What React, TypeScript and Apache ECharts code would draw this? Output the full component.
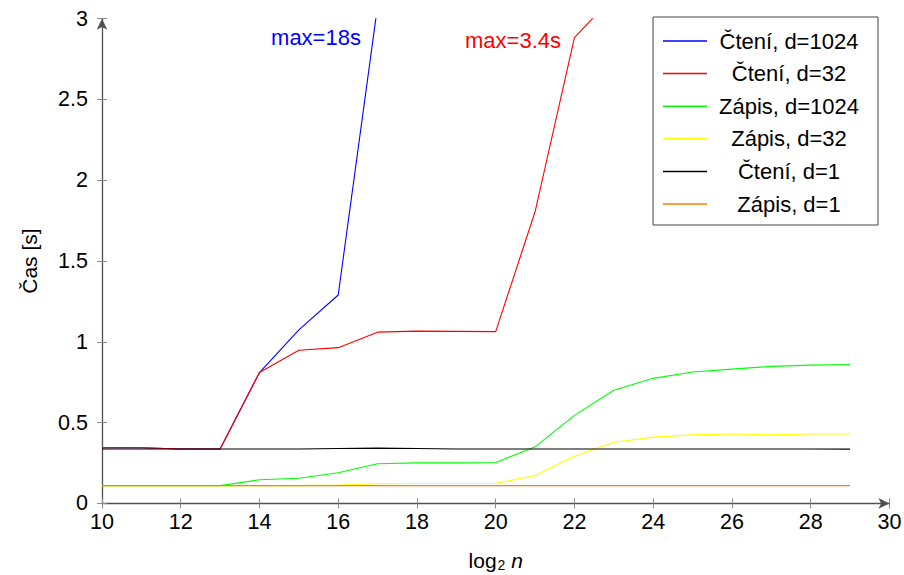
import React, { useEffect, useRef } from "react";
import * as echarts from "echarts";

const FONT = "'Liberation Sans', Arial, Helvetica, sans-serif";

// log2 n
const xValues = [10, 11, 12, 13, 14, 15, 16, 17, 18, 19, 20, 21, 22, 23, 24, 25, 26, 27, 28, 29];

// Time [s]
const readD1024 = [0.345, 0.344, 0.337, 0.337, 0.81, 1.074, 1.29, 3.08, 5.6, 8.2, 10.4, 12.3, 13.9, 15.2, 16.3, 17.1, 17.6, 18.0, 17.8, 17.6];
const readD32 = [0.345, 0.344, 0.337, 0.337, 0.81, 0.948, 0.964, 1.06, 1.066, 1.065, 1.063, 1.805, 2.883, 3.14, 3.27, 3.33, 3.37, 3.4, 3.38, 3.36];
const writeD1024 = [0.11, 0.11, 0.11, 0.11, 0.146, 0.156, 0.19, 0.245, 0.251, 0.251, 0.253, 0.35, 0.545, 0.7, 0.774, 0.813, 0.831, 0.848, 0.856, 0.86];
const writeD32 = [0.11, 0.11, 0.11, 0.11, 0.11, 0.11, 0.113, 0.122, 0.123, 0.123, 0.124, 0.173, 0.292, 0.378, 0.41, 0.424, 0.43, 0.424, 0.43, 0.43];
const readD1 = [0.337, 0.337, 0.337, 0.337, 0.337, 0.337, 0.34, 0.342, 0.34, 0.337, 0.337, 0.337, 0.337, 0.337, 0.337, 0.337, 0.337, 0.337, 0.337, 0.336];
const writeD1 = [0.11, 0.11, 0.11, 0.11, 0.11, 0.11, 0.11, 0.11, 0.11, 0.11, 0.11, 0.11, 0.11, 0.11, 0.11, 0.11, 0.11, 0.11, 0.11, 0.11];

const seriesNames = ["Čtení, d=1024", "Čtení, d=32", "Zápis, d=1024", "Zápis, d=32", "Čtení, d=1", "Zápis, d=1"];
const seriesData = [readD1024, readD32, writeD1024, writeD32, readD1, writeD1];
const seriesColors = ["#0000ff", "#ff0000", "#00ff00", "#ffff00", "#000000", "#ff8000"];

const xTicks = { min: 10, max: 30, interval: 2 };
const yTicks = { min: 0, max: 3, interval: 0.5 };

const annotations = [
  { text: "max=18s", color: "#0000ff" },
  { text: "max=3.4s", color: "#ff0000" },
];

export default function App() {
  const ref = useRef<HTMLDivElement>(null);

  useEffect(() => {
    const chart = echarts.init(ref.current!, null, { renderer: "svg" });
    const axisLineStyle = { color: "#505050", width: 1.3 };
    const tickStyle = { color: "#8a8a8a", width: 1 };

    const option: any = {
      animation: false,
      backgroundColor: "#ffffff",
      textStyle: { fontFamily: FONT },
      grid: { left: 102, right: 14.6, top: 18.7, bottom: 71.6, containLabel: false, outerBoundsMode: "none" },
      xAxis: [
        {
          type: "value",
          ...xTicks,
          position: "bottom",
          axisLine: { show: true, onZero: false, symbol: ["none", "arrow"], symbolSize: [8, 11], lineStyle: axisLineStyle },
          axisTick: { show: true, inside: false, length: 5, lineStyle: tickStyle },
          axisLabel: { fontSize: 21.5, color: "#000", margin: 8, fontFamily: FONT },
          splitLine: { show: false },
          name: "{a|log}{s|2}{i| n}",
          nameLocation: "middle",
          nameGap: 45,
          nameTextStyle: {
            rich: {
              a: { fontSize: 21, fontFamily: FONT, color: "#000", lineHeight: 24, verticalAlign: "middle" },
              s: { fontSize: 14, fontFamily: FONT, color: "#000", lineHeight: 8, verticalAlign: "bottom", padding: [0, 0, 0, 1] },
              i: { fontSize: 21, fontFamily: FONT, fontStyle: "italic", color: "#000", lineHeight: 24, verticalAlign: "middle" },
            },
          },
        },
        {
          type: "value",
          ...xTicks,
          position: "bottom",
          axisLine: { show: false },
          axisTick: { show: true, inside: true, length: 5, lineStyle: tickStyle },
          axisLabel: { show: false },
          splitLine: { show: false },
        },
      ],
      yAxis: [
        {
          type: "value",
          ...yTicks,
          position: "left",
          axisLine: { show: true, onZero: false, symbol: ["none", "arrow"], symbolSize: [8, 11], lineStyle: axisLineStyle },
          axisTick: { show: true, inside: false, length: 5, lineStyle: tickStyle },
          axisLabel: { fontSize: 21.5, color: "#000", margin: 14, fontFamily: FONT },
          splitLine: { show: false },
          name: "Čas [s]",
          nameLocation: "middle",
          nameRotate: 90,
          nameGap: 62,
          nameTextStyle: { fontSize: 21, color: "#000", fontFamily: FONT },
        },
        {
          type: "value",
          ...yTicks,
          position: "left",
          axisLine: { show: false },
          axisTick: { show: true, inside: true, length: 5, lineStyle: tickStyle },
          axisLabel: { show: false },
          splitLine: { show: false },
        },
      ],
      legend: {
        show: true,
        orient: "vertical",
        left: 653,
        top: 17,
        data: seriesNames,
        icon: "rect",
        itemWidth: 44,
        itemHeight: 1.5,
        itemGap: 10.6,
        padding: [13, 12, 10, 10],
        borderColor: "#444",
        borderWidth: 1,
        backgroundColor: "#fff",
        selectedMode: false,
        formatter: (name: string) => `{c|${name}}`,
        textStyle: {
          rich: {
            c: { width: 154, align: "center", fontSize: 22, lineHeight: 24, fontFamily: FONT, color: "#000" },
          },
        },
      },
      series: seriesNames.map((name, k) => ({
        name,
        type: "line",
        xAxisIndex: 0,
        yAxisIndex: 0,
        data: xValues.map((x, i) => [x, seriesData[k][i]]),
        showSymbol: false,
        symbol: "none",
        clip: true,
        color: seriesColors[k],
        lineStyle: { color: seriesColors[k], width: 1.1 },
        z: 2 + k,
      })),
      graphic: [
        {
          type: "text",
          x: 316,
          y: 37.5,
          z: 50,
          style: { text: annotations[0].text, fill: annotations[0].color, font: `22px ${FONT}`, textAlign: "center", textVerticalAlign: "middle" },
        },
        {
          type: "text",
          x: 513,
          y: 40,
          z: 50,
          style: { text: annotations[1].text, fill: annotations[1].color, font: `22px ${FONT}`, textAlign: "center", textVerticalAlign: "middle" },
        },
      ],
    };
    chart.setOption(option);
    return () => chart.dispose();
  }, []);

  return <div ref={ref} style={{ position: "fixed", left: 0, top: 0, width: 904, height: 575 }} />;
}
